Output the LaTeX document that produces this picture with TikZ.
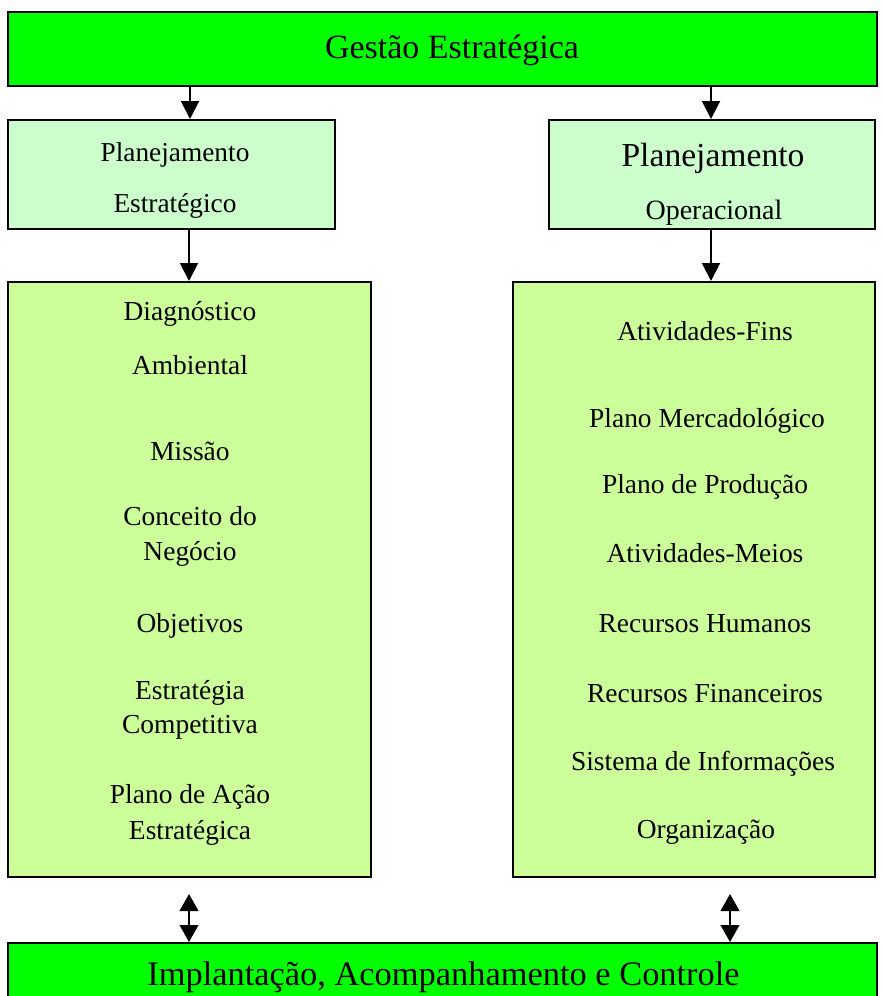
\documentclass[tikz,border=0pt]{standalone}
\usepackage{fontspec}
\setmainfont{Liberation Serif}
\usetikzlibrary{arrows.meta}

\definecolor{vivid}{HTML}{00FF00}
\definecolor{mint}{HTML}{CCFFCC}
\definecolor{lime}{HTML}{CCFF99}

\newcommand\fsz[1]{\fontsize{#1}{#1}\selectfont}

\begin{document}
\begin{tikzpicture}[x=0.75pt,y=-0.75pt,
  box/.style={draw=black, line width=1.5pt, inner sep=0pt, rectangle},
  label/.style={anchor=base, inner sep=0pt},
  item/.style={label, font=\fsz{20.6}},
  flow/.style={line width=1.5pt, -{Triangle[width=13.5pt,length=13.5pt]}},
  both/.style={line width=1.5pt, {Triangle[width=14pt,length=12.75pt]}-{Triangle[width=14pt,length=12.75pt]}}]

  % page area
  \clip (0,0) rectangle (882,996);
  \fill[white] (0,0) rectangle (882,996);

  % boxes
  \node[box, fill=vivid, minimum width=651.75pt, minimum height=55.5pt] (gestao) at (442.5,49) {};
  \node[box, fill=mint, minimum width=245.25pt, minimum height=81.75pt] (pestr) at (171.5,174.5) {};
  \node[box, fill=mint, minimum width=244.5pt, minimum height=81.75pt] (poper) at (712,174.5) {};
  \node[box, fill=lime, minimum width=272.25pt, minimum height=446.25pt] (diag) at (189.5,579.5) {};
  \node[box, fill=lime, minimum width=271.5pt, minimum height=446.25pt] (ativ) at (694,579.5) {};
  \node[box, fill=vivid, minimum width=651.75pt, minimum height=50.25pt] (impl) at (442.5,976.5) {};

  % titles
  \node[label, font=\fsz{25.5}] (tgestao) at (452,58) {Gestão Estratégica};
  \node[label, font=\fsz{20.5}] (tpe1) at (175,161) {Planejamento};
  \node[label, font=\fsz{20.5}] (tpe2) at (175,212) {Estratégico};
  \node[label, font=\fsz{25.2}] (tpo1) at (713,166) {Planejamento};
  \node[label, font=\fsz{21}] (tpo2) at (714,219) {Operacional};
  \node[label, font=\fsz{25.8}] (timpl) at (443.5,985) {Implantação, Acompanhamento e Controle};

  % strategic planning items
  \node[item] (l1) at (190,320) {Diagnóstico};
  \node[item] (l2) at (190,374) {Ambiental};
  \node[item] (l3) at (190,460) {Missão};
  \node[item] (l4) at (190,525) {Conceito do};
  \node[item] (l5) at (190,560) {Negócio};
  \node[item] (l6) at (190,632) {Objetivos};
  \node[item] (l7) at (190,699) {Estratégia};
  \node[item] (l8) at (190,733) {Competitiva};
  \node[item] (l9) at (190,803) {Plano de Ação};
  \node[item] (l10) at (190,839) {Estratégica};

  % operational planning items
  \node[item] (r1) at (705,340) {Atividades-Fins};
  \node[item] (r2) at (707,427) {Plano Mercadológico};
  \node[item] (r3) at (705,493) {Plano de Produção};
  \node[item] (r4) at (705,562) {Atividades-Meios};
  \node[item] (r5) at (705,632) {Recursos Humanos};
  \node[item] (r6) at (705,702) {Recursos Financeiros};
  \node[item] (r7) at (703,770) {Sistema de Informações};
  \node[item] (r8) at (706,838) {Organização};

  % connector columns
  \coordinate (cl) at (190,0);
  \coordinate (cr) at (711,0);
  \coordinate (dl) at (189,0);
  \coordinate (dr) at (730,0);

  \draw[flow] (gestao.south -| cl) -- (pestr.north -| cl);
  \draw[flow] (gestao.south -| cr) -- (poper.north -| cr);
  \draw[flow] (pestr.south -| dl) -- (diag.north -| dl);
  \draw[flow] (poper.south -| cr) -- (ativ.north -| cr);
  \draw[both, shorten <=12pt] (diag.south -| dl) -- (impl.north -| dl);
  \draw[both, shorten <=12pt] (ativ.south -| dr) -- (impl.north -| dr);
\end{tikzpicture}
\end{document}
